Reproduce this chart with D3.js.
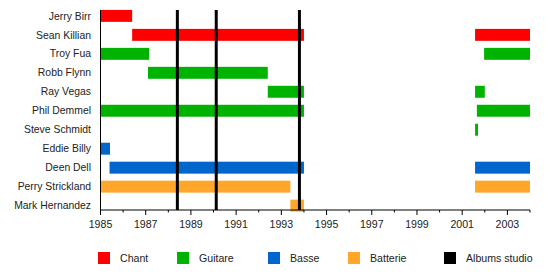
<!DOCTYPE html>
<html>
<head>
<meta charset="utf-8">
<script src="https://cdn.jsdelivr.net/npm/d3@7"></script>
<style>
  html, body { margin: 0; padding: 0; background: #fff; }
  svg { display: block; font-family: "Liberation Sans", Arial, sans-serif; }
</style>
</head>
<body>
<svg id="chart" width="550" height="280"></svg>
<script>
// members, top to bottom
const members = ["Jerry Birr", "Sean Killian", "Troy Fua", "Robb Flynn", "Ray Vegas",
  "Phil Demmel", "Steve Schmidt", "Eddie Billy", "Deen Dell", "Perry Strickland", "Mark Hernandez"];

// roles for the legend
const roles = ["Chant", "Guitare", "Basse", "Batterie"];
const roleColors = ["#ff0000", "#00b300", "#0066cc", "#ffa62b"];

// periods: [member, role, start, end]
const periods = [
  ["Jerry Birr", "Chant", 1985, 1986.4],
  ["Sean Killian", "Chant", 1986.4, 1994.0],
  ["Sean Killian", "Chant", 2001.57, 2004],
  ["Troy Fua", "Guitare", 1985, 1987.15],
  ["Troy Fua", "Guitare", 2001.97, 2004],
  ["Robb Flynn", "Guitare", 1987.1, 1992.4],
  ["Ray Vegas", "Guitare", 1992.4, 1994.0],
  ["Ray Vegas", "Guitare", 2001.57, 2002.0],
  ["Phil Demmel", "Guitare", 1985, 1994.0],
  ["Phil Demmel", "Guitare", 2001.65, 2004],
  ["Steve Schmidt", "Guitare", 2001.57, 2001.7],
  ["Eddie Billy", "Basse", 1985, 1985.42],
  ["Deen Dell", "Basse", 1985.4, 1994.0],
  ["Deen Dell", "Basse", 2001.57, 2004],
  ["Perry Strickland", "Batterie", 1985, 1993.4],
  ["Perry Strickland", "Batterie", 2001.57, 2004],
  ["Mark Hernandez", "Batterie", 1993.4, 1994.0]
];

// studio albums
const albums = [1988.4, 1990.12, 1993.8];

const majorTicks = d3.range(1985, 2004, 2);
const minorTicks = d3.range(1985, 2005, 1);

const svg = d3.select("#chart");

const x = d3.scaleLinear().domain([1985, 2004]).range([100.5, 530]);
const y = d3.scaleBand().domain(members).range([6.5, 215]).paddingInner(0.37).paddingOuter(0.18);
const color = d3.scaleOrdinal().domain(roles).range(roleColors);

// bars
svg.append("g")
  .selectAll("rect")
  .data(periods)
  .join("rect")
  .attr("x", d => x(d[2]))
  .attr("width", d => x(d[3]) - x(d[2]))
  .attr("y", d => y(d[0]))
  .attr("height", y.bandwidth())
  .attr("fill", d => color(d[1]));

// album lines
svg.append("g")
  .selectAll("line")
  .data(albums)
  .join("line")
  .attr("x1", d => x(d)).attr("x2", d => x(d))
  .attr("y1", 10).attr("y2", 210)
  .attr("stroke", "#000")
  .attr("stroke-width", 3);

// left edge line
svg.append("line")
  .attr("x1", x(1985)).attr("x2", x(1985))
  .attr("y1", 10).attr("y2", 210)
  .attr("stroke", "#000").attr("stroke-width", 1);

// member labels
svg.append("g")
  .selectAll("text")
  .data(members)
  .join("text")
  .attr("x", 91)
  .attr("y", d => y(d) + y.bandwidth() / 2)
  .attr("dy", "0.35em")
  .attr("text-anchor", "end")
  .attr("font-size", "10.4px")
  .attr("fill", "#222")
  .text(d => d);

// x axis
const axisY = 210;
svg.append("line")
  .attr("x1", x(1985)).attr("x2", x(2004))
  .attr("y1", axisY).attr("y2", axisY)
  .attr("stroke", "#000");

svg.append("g")
  .selectAll("line")
  .data(minorTicks)
  .join("line")
  .attr("x1", d => x(d)).attr("x2", d => x(d))
  .attr("y1", axisY)
  .attr("y2", d => majorTicks.includes(d) ? axisY + 5 : axisY + 2.5)
  .attr("stroke", "#000");

svg.append("g")
  .selectAll("text")
  .data(majorTicks)
  .join("text")
  .attr("x", d => x(d))
  .attr("y", 228)
  .attr("text-anchor", "middle")
  .attr("font-size", "10.6px")
  .attr("fill", "#222")
  .text(d => d);

// legend
const legendItems = roles.map((r, i) => ({ label: r, color: roleColors[i] }))
  .concat([{ label: "Albums studio", color: "#000" }]);
const legendX = [98, 177, 268, 348, 444];

const leg = svg.append("g")
  .selectAll("g")
  .data(legendItems)
  .join("g")
  .attr("transform", (d, i) => `translate(${legendX[i]},252)`);

leg.append("rect")
  .attr("width", 12).attr("height", 12)
  .attr("fill", d => d.color);

leg.append("text")
  .attr("x", 22).attr("y", 6)
  .attr("dy", "0.35em")
  .attr("font-size", "10.6px")
  .attr("fill", "#222")
  .text(d => d.label);
</script>
</body>
</html>
